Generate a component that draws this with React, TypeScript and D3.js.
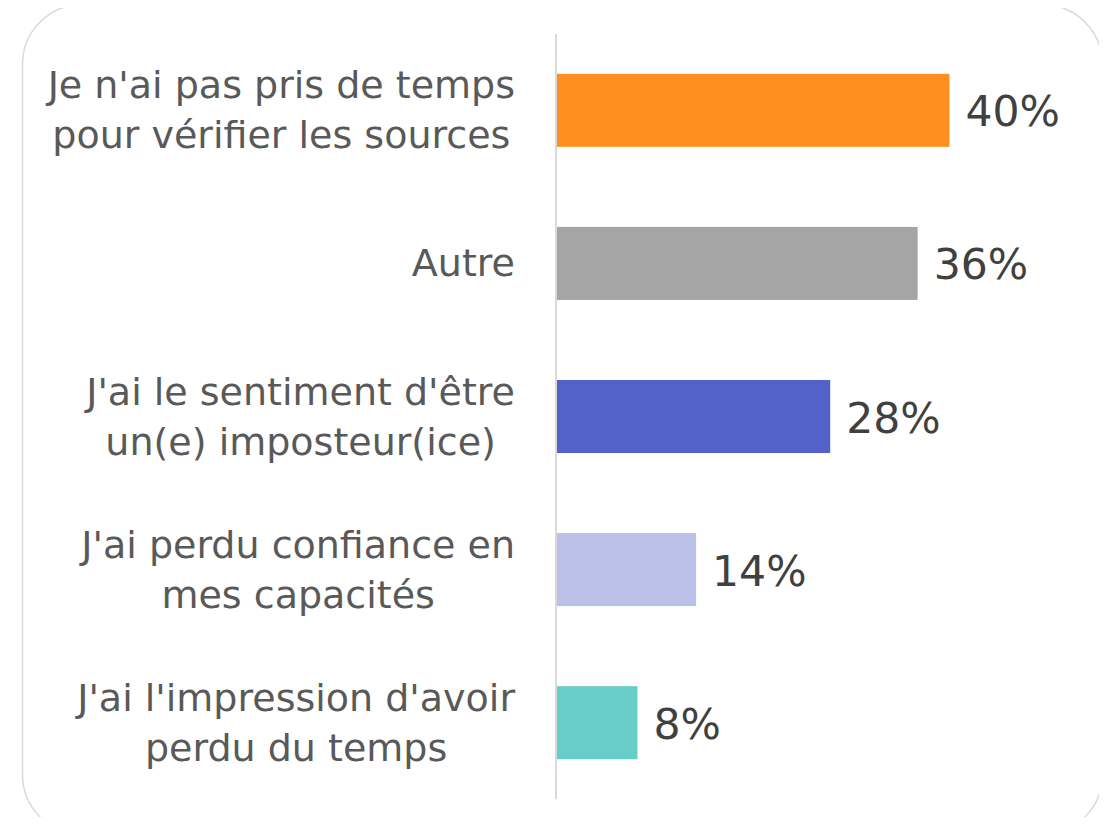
import React, { useEffect, useRef } from 'react';
import * as d3 from 'd3';

// raisons (du haut vers le bas)
const categories = [
  ["Je n'ai pas pris de temps", 'pour vérifier les sources'],
  ['Autre'],
  ["J'ai le sentiment d'être", 'un(e) imposteur(ice)'],
  ["J'ai perdu confiance en", 'mes capacités'],
  ["J'ai l'impression d'avoir", 'perdu du temps'],
];
const values = [0.396, 0.364, 0.276, 0.141, 0.082];
const valueLabels = ['40%', '36%', '28%', '14%', '8%'];
const colors = ['#FF8F1F', '#A5A5A5', '#5262C8', '#BBC0E8', '#66CDC8'];

const W = 1107;
const H = 825;

export default function App() {
  const ref = useRef<SVGSVGElement>(null);

  useEffect(() => {
    const svg = d3.select(ref.current);
    svg.selectAll('*').remove();

    const font = "'DejaVu Sans', sans-serif";

    svg.append('rect')
      .attr('x', 22.5).attr('y', 4.5)
      .attr('width', 1080).attr('height', 830)
      .attr('rx', 60).attr('ry', 60)
      .attr('fill', '#fff')
      .attr('stroke', '#D9D9D9')
      .attr('stroke-width', 1.5);

    const idx = d3.range(values.length);
    const y = d3.scaleBand<number>()
      .domain(idx)
      .range([34, 799])
      .paddingInner(0.523)
      .paddingOuter(0.26);
    const x = d3.scaleLinear().domain([0, 0.45]).range([556, 556 + 0.45 * 993.5]);

    svg.selectAll('rect.bar')
      .data(idx)
      .join('rect')
      .attr('class', 'bar')
      .attr('x', x(0))
      .attr('y', i => y(i)!)
      .attr('width', i => x(values[i]) - x(0))
      .attr('height', y.bandwidth())
      .attr('fill', i => colors[i]);

    svg.append('line')
      .attr('x1', x(0)).attr('x2', x(0))
      .attr('y1', 34).attr('y2', 799)
      .attr('stroke', '#D9D9D9')
      .attr('stroke-width', 2);

    svg.selectAll('text.val')
      .data(idx)
      .join('text')
      .attr('class', 'val')
      .attr('x', i => x(values[i]) + 16)
      .attr('y', i => y(i)! + y.bandwidth() / 2 + 16)
      .attr('font-family', font)
      .attr('font-size', 42.5)
      .attr('fill', '#404040')
      .text(i => valueLabels[i]);

    const lab = svg.selectAll('text.cat')
      .data(idx)
      .join('text')
      .attr('class', 'cat')
      .attr('text-anchor', 'middle')
      .attr('font-family', font)
      .attr('font-size', 38)
      .attr('fill', '#595959');

    lab.each(function (i) {
      const lines = categories[i];
      const cy = y(i)! + y.bandwidth() / 2;
      const first = cy + 13 - (lines.length - 1) * 25;
      const spans = d3.select(this).selectAll('tspan')
        .data(lines)
        .join('tspan')
        .attr('y', (_, k) => first + k * 50)
        .text(d => d);
      let maxW = 0;
      spans.each(function () {
        maxW = Math.max(maxW, (this as SVGTSpanElement).getComputedTextLength());
      });
      spans.attr('x', 515 - maxW / 2);
    });
  }, []);

  return <svg ref={ref} width={W} height={H} style={{ display: 'block', margin: -8 }} />;
}
